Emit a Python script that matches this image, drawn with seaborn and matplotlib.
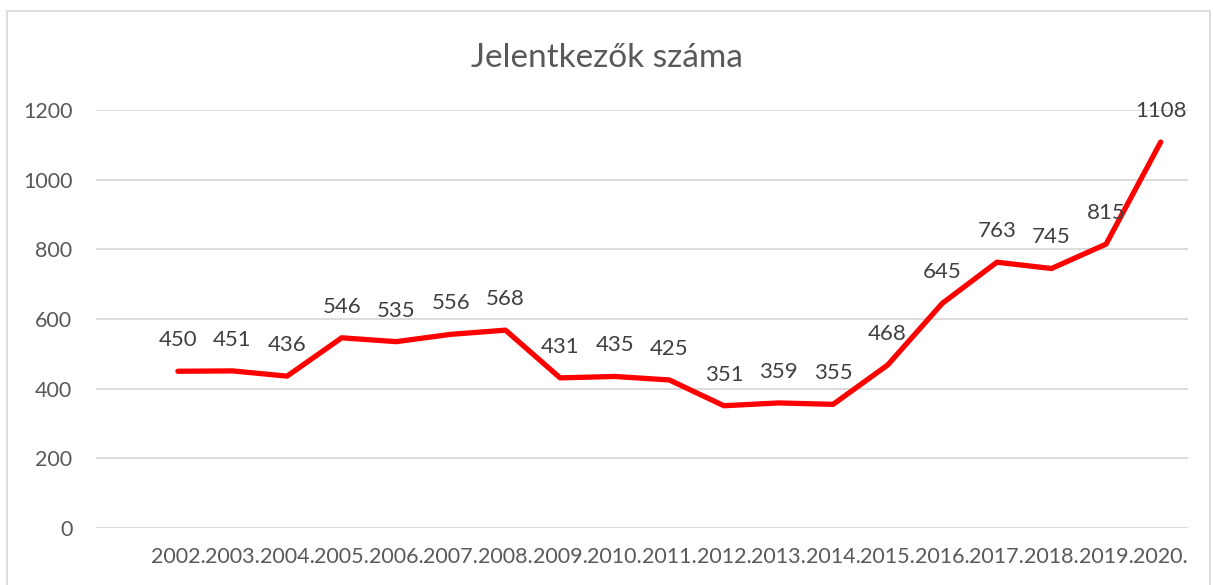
import pandas as pd
import matplotlib.pyplot as plt
import matplotlib.patches as mpatches
import seaborn as sns

years = ['2002.', '2003.', '2004.', '2005.', '2006.', '2007.', '2008.', '2009.', '2010.',
         '2011.', '2012.', '2013.', '2014.', '2015.', '2016.', '2017.', '2018.', '2019.', '2020.']
applicants = [450, 451, 436, 546, 535, 556, 568, 431, 435, 425, 351, 359, 355, 468, 645, 763, 745, 815, 1108]

df = pd.DataFrame({'pos': range(len(years)), 'ev': years, 'db': applicants})

sns.set_style("white")
plt.rcParams['font.family'] = ['Lato', 'DejaVu Sans']
grey = '#595959'

fig = plt.figure(figsize=(12.13, 5.85), dpi=100)
ax = fig.add_axes([96 / 1213, 57 / 585, 1092 / 1213, 418 / 585])

sns.lineplot(data=df, x='pos', y='db', color='#ff0000', linewidth=3.8, ax=ax)

for x, y in zip(df['pos'], df['db']):
    ax.annotate(str(y), (x, y), xytext=(0, 31), textcoords='offset pixels',
                ha='center', va='center', fontsize=16, color='#404040')

ax.set_xlim(-1.5, len(years) - 0.5)
ax.set_ylim(0, 1200)
ax.set_yticks(range(0, 1201, 200))
ax.set_xticks(df['pos'])
ax.set_xticklabels(years)
ax.tick_params(axis='both', length=0, labelsize=15.5, labelcolor=grey)
ax.tick_params(axis='x', pad=14)
ax.tick_params(axis='y', pad=17)
ax.grid(axis='y', color='#d9d9d9', linewidth=1.3)
ax.set_axisbelow(True)
ax.set_xlabel('')
ax.set_ylabel('')
for s in ax.spines.values():
    s.set_visible(False)

fig.text(0.5, 1 - 58 / 585, 'Jelentkezők száma', ha='center', va='center', fontsize=24, color=grey)

border = mpatches.Rectangle((7 / 1213, -0.01), 1203 / 1213, 1 - 11 / 585 + 0.01,
                            transform=fig.transFigure, fill=False, edgecolor='#d9d9d9', linewidth=1.3)
fig.patches.append(border)

fig.savefig('out.png', dpi=100)
